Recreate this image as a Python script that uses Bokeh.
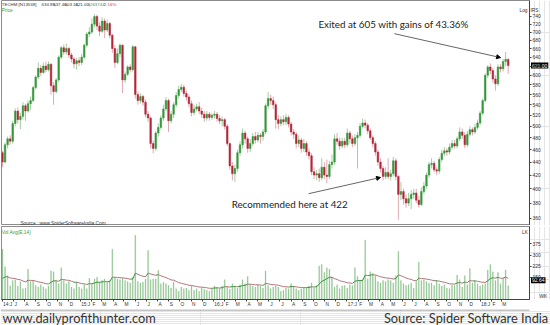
import datetime as dt
from bokeh.plotting import figure
from bokeh.models import (Range1d, FixedTicker, PrintfTickFormatter, Label, Arrow,
                          NormalHead, ColumnDataSource)
from bokeh.layouts import column, row
from bokeh.embed import file_html
from bokeh.resources import INLINE

# ---------------- data (weekly TECHM candles) ----------------
first_week = dt.date(2014, 6, 2)
n_weeks = 199

opens = [455,440,468,478,474,505,528,512,518,538,
         528,542,548,574,596,615,606,620,612,624,
         578,566,590,640,662,652,660,645,636,625,
         632,628,640,668,695,700,720,740,715,702,
         728,705,722,692,660,628,648,668,590,602,
         618,612,664,560,548,556,545,522,515,470,
         462,488,498,515,532,548,510,522,540,558,
         570,575,562,555,542,525,532,536,528,522,
         515,522,516,520,522,514,510,512,500,470,
         434,422,430,455,468,488,478,462,470,482,
         476,484,482,490,538,552,548,540,512,505,
         512,508,516,504,490,486,470,476,462,470,
         456,450,425,420,422,416,432,420,418,436,
         440,478,474,466,474,468,488,478,470,480,
         484,500,506,502,492,480,470,456,440,430,
         418,424,418,422,442,418,392,396,386,380,
         386,392,394,384,378,396,404,420,436,438,
         428,426,444,454,458,456,464,470,466,478,
         490,484,468,486,494,490,498,506,524,548,
         600,618,610,592,582,618,614,630,634.85]

highs = [458,472,482,484,510,533,535,525,545,542,
         548,556,578,600,628,622,628,630,630,626,
         585,594,644,666,670,672,664,650,640,638,
         640,648,672,700,712,735,746,745,725,738,
         735,732,726,696,668,660,672,670,608,622,
         624,668,666,566,562,560,550,528,518,475,
         492,505,520,540,555,552,528,545,565,578,
         582,580,568,560,548,540,542,545,534,528,
         528,526,524,528,526,520,518,515,504,472,
         440,436,460,474,496,492,482,478,488,490,
         490,488,495,542,565,560,556,545,520,518,
         520,522,520,508,495,490,484,480,478,474,
         462,454,432,428,430,446,440,444,442,452,
         486,488,480,480,480,496,492,484,486,490,
         506,514,512,506,496,484,474,460,446,434,
         432,446,428,448,446,420,410,400,392,394,
         398,400,400,390,402,410,424,440,446,442,
         432,448,460,464,462,470,476,476,482,498,
         496,490,492,500,498,504,512,528,552,604,
         622,626,616,600,624,624,636,652,637.4]

lows = [432,438,462,468,470,500,505,495,512,510,
        525,530,545,570,592,598,603,606,608,560,
        540,562,586,636,645,646,638,628,615,612,
        620,622,636,664,688,695,712,705,690,698,
        685,700,684,650,616,624,640,563,584,598,
        606,608,552,540,542,538,516,508,462,454,
        458,482,494,510,528,490,505,515,535,552,
        565,556,548,535,518,520,528,522,515,508,
        510,510,512,514,508,504,500,494,466,428,
        412,410,425,450,462,470,455,456,466,470,
        472,470,475,486,532,540,532,496,495,500,
        502,502,498,484,478,462,464,455,456,450,
        444,420,414,412,410,412,414,408,414,430,
        436,468,460,462,462,464,470,464,466,430,
        480,496,496,486,476,464,450,434,424,412,
        414,414,412,418,412,358,384,378,374,376,
        372,386,380,374,376,392,400,416,430,424,
        420,422,440,450,450,452,460,462,462,474,
        478,462,464,482,484,486,494,502,520,545,
        594,602,584,568,578,606,608,620,603.1]

closes = [440,468,478,474,505,528,512,518,538,528,
          542,548,574,596,615,606,620,612,624,578,
          566,590,640,662,652,660,645,636,625,632,
          628,640,668,695,700,720,740,715,702,728,
          705,722,692,660,628,648,668,590,602,618,
          612,664,560,548,556,545,522,515,470,462,
          488,498,515,532,548,510,522,540,558,570,
          575,562,555,542,525,532,536,528,522,515,
          522,516,520,522,514,510,512,500,470,434,
          422,430,455,468,488,478,462,470,482,476,
          484,482,490,538,552,548,540,512,505,512,
          508,516,504,490,486,470,476,462,470,456,
          450,425,420,422,416,432,420,418,436,440,
          478,474,466,474,468,488,478,470,480,484,
          500,506,502,492,480,470,456,440,430,418,
          424,418,422,442,418,392,396,386,380,386,
          392,394,384,378,396,404,420,436,438,428,
          426,444,454,458,456,464,470,466,478,490,
          484,468,486,494,490,498,506,524,548,600,
          618,610,592,582,618,614,630,635,621]

# weekly volume in lakhs
volumes = [340,222,161,91,128,134,91,121,73,77,
           204,121,128,95,84,99,84,73,91,193,
           187,128,106,215,128,106,121,84,73,117,
           84,73,99,73,143,106,139,150,117,130,
           139,117,128,340,150,139,134,143,128,121,
           112,150,434,121,112,117,139,331,134,139,
           139,198,106,117,106,95,77,117,73,56,
           84,73,77,62,91,62,73,56,80,69,
           62,56,73,91,84,73,91,134,84,70,
           106,91,77,99,134,106,156,99,91,84,
           99,91,77,193,95,73,84,91,84,56,
           62,77,73,106,91,73,62,73,77,77,
           91,112,77,95,226,237,182,215,204,150,
           84,99,73,91,95,77,99,95,215,156,
           128,134,401,139,187,178,161,121,112,128,
           121,134,128,112,161,325,128,106,95,100,
           112,77,121,252,128,134,121,110,112,95,
           128,106,91,99,77,73,96,95,165,134,
           84,161,99,209,112,128,106,91,100,106,
           200,237,187,128,182,106,143,200,92.64]

month_letters = ["J", "F", "M", "A", "M", "J", "J", "A", "S", "O", "N", "D"]
price_ticks = list(range(360, 741, 20))
volume_ticks = [150, 225, 300, 375]
last_price = 621.00
last_volume = 92.64

# ---------------- derived ----------------
days = [7 * k for k in range(n_weeks)]
up = [c >= o for o, c in zip(opens, closes)]
body_col = ["#35973a" if u else "#b3263a" for u in up]
wick_col = ["#9fd09f" if u else "#dfa9b2" for u in up]
src = ColumnDataSource(dict(
    x=days, h=highs, l=lows,
    top=[max(o, c) for o, c in zip(opens, closes)],
    bot=[min(o, c) for o, c in zip(opens, closes)],
    body=body_col, wick=wick_col))

# EMA(14) of volume, as on the original "Avg(E,14)"
alpha = 2 / 15
ema = [sum(volumes[:14]) / 14]
for v in volumes[1:]:
    ema.append(ema[-1] + alpha * (v - ema[-1]))
seg = ColumnDataSource(dict(
    x0=days[:-1], x1=days[1:], y0=ema[:-1], y1=ema[1:],
    col=["#3d9440" if b >= a else "#b7737c" for a, b in zip(ema[:-1], ema[1:])]))

# month ticks
month_starts, label_pos, labels = [], [], {}
y, m = 2014, 6
while (y, m) <= (2018, 3):
    d = (dt.date(y, m, 1) - first_week).days
    if m == 1 or (y, m) == (2014, 6):
        txt = "%02d:%s" % (y % 100, month_letters[m - 1])
        pos = d + 15
    else:
        txt = month_letters[m - 1]
        pos = d + 7
    month_starts.append(d)
    label_pos.append(pos)
    labels[pos] = txt
    m += 1
    if m == 13:
        y, m = y + 1, 1

W = 550
RB = 21          # right border holding the axis
XR = (-2.74, 1444.4)
FONT = "Liberation Sans"
AX_COL = "#444444"
OUT = "#8c8c8c"

def style_axis(ax):
    ax.axis_line_color = AX_COL
    ax.major_tick_line_color = AX_COL
    ax.major_label_text_font = FONT
    ax.major_label_text_font_size = "5px"
    ax.major_label_text_color = "#333333"
    ax.major_tick_in = 0
    ax.major_tick_out = 2
    ax.minor_tick_line_color = None
    ax.major_label_standoff = 1

def lab(p, x, yv, text, size="5px", color="#333333", font=FONT, align="left",
        baseline="middle", **kw):
    p.add_layout(Label(x=x, y=yv, text=text, text_font=font, text_font_size=size,
                       text_color=color, text_align=align, text_baseline=baseline, **kw))

def overlay(height, y_range, log=False):
    # transparent strip laid under the right border, for the value boxes
    f = figure(width=RB, height=height, x_range=Range1d(0, RB), y_range=y_range,
               y_axis_type="log" if log else "linear",
               x_axis_location=None, y_axis_location=None,
               output_backend="svg", toolbar_location=None, min_border=0,
               margin=(0, 0, 0, -RB))
    f.outline_line_color = None
    f.background_fill_alpha = 0
    f.border_fill_alpha = 0
    f.styles = {"z-index": "0"}
    return f

# ---------------- price panel ----------------
pA = figure(width=W, height=225, y_axis_type="log",
            x_range=Range1d(*XR), y_range=Range1d(350.8, 783.5),
            x_axis_location=None, y_axis_location="right",
            output_backend="svg", toolbar_location=None,
            min_border_left=1, min_border_right=RB, min_border_top=0, min_border_bottom=0)
pA.grid.visible = False
pA.outline_line_color = OUT
pA.border_fill_alpha = 0
pA.styles = {"z-index": "1"}
pA.yaxis.ticker = FixedTicker(ticks=price_ticks)
pA.yaxis.formatter = PrintfTickFormatter(format="%d")
style_axis(pA.yaxis[0])

pA.segment(x0="x", y0="l", x1="x", y1="h", line_color="wick", line_width=1, source=src)
pA.vbar(x="x", width=4.4, top="top", bottom="bot", fill_color="body",
        line_color="body", line_width=0.5, source=src)

hy = 771.6
lab(pA, -2, hy, "TECHM [N13538]", "4.4px")
lab(pA, 107, hy, "634.85,", "4.4px")
lab(pA, 139, hy, "637.40,", "4.4px")
lab(pA, 170, hy, "603.10,", "4.4px")
lab(pA, 200, hy, "621.00,", "4.4px")
lab(pA, 233, hy, "9263743", "4.4px", color="#3a9a3a")
lab(pA, 274, hy, "-2.16%", "4.4px", color="#d03030")
lab(pA, -2, 756, "Price", "4.8px", color="#3a9a3a")
lab(pA, 1417, 756, "Log", "4.8px")
lab(pA, 49, 353.8, "Source : www.SpiderSoftwareIndia.Com", "4.8px")

ANN_FONT = "Lato"
lab(pA, 866, 721, "Exited at 605 with gains of 43.36%", "9.8px", color="#222222", font=ANN_FONT)
lab(pA, 628, 379, "Recommended here at 422", "9.8px", color="#222222", font=ANN_FONT)
pA.add_layout(Arrow(end=NormalHead(size=4, fill_color="black", line_color="black"),
                    x_start=1074, y_start=696, x_end=1365, y_end=639,
                    line_color="#666666", line_width=1))
pA.add_layout(Arrow(end=NormalHead(size=4, fill_color="black", line_color="black"),
                    x_start=839, y_start=393, x_end=1036, y_end=416.4,
                    line_color="#666666", line_width=1))

pAR = overlay(225, pA.y_range, log=True)
lab(pAR, 1, 756, "IRS", "4.8px")
lab(pAR, 1.5, last_price, "%.2f" % last_price, "5px", color="white",
    background_fill_color="black", padding=1)

# ---------------- volume panel ----------------
BOT = 8
VPX = 493 / 75   # volume units per pixel in the 75px tall volume frame
pB = figure(width=W, height=84, x_range=Range1d(*XR), y_range=Range1d(0, 493),
            y_axis_location="right", output_backend="svg", toolbar_location=None,
            min_border_left=1, min_border_right=RB, min_border_top=1, min_border_bottom=BOT)
pB.grid.visible = False
pB.outline_line_color = OUT
pB.border_fill_alpha = 0
pB.styles = {"z-index": "1"}
pB.yaxis.ticker = FixedTicker(ticks=volume_ticks)
style_axis(pB.yaxis[0])
xa = pB.xaxis[0]
style_axis(xa)
xa.ticker = FixedTicker(ticks=label_pos, minor_ticks=month_starts)
xa.major_label_overrides = labels
xa.major_tick_out = 0
xa.minor_tick_line_color = AX_COL
xa.minor_tick_out = 2
xa.minor_tick_in = 0
xa.major_label_standoff = 0
xa.major_label_text_font_size = "4.8px"

pB.vbar(x=days, width=2.4, top=volumes, bottom=0, fill_color="#8fc28f",
        line_color="#8fc28f", line_width=0.3)
pB.segment(x0="x0", y0="y0", x1="x1", y1="y1", line_color="col", line_width=1, source=seg)

lab(pB, -2, 455, "Vol Avg(E,14)", "4.8px", color="#3a9a3a")
lab(pB, 1424, 455, "LK", "4.8px")

# overlay for the volume panel covers the whole 84px, so extend the range by the borders
pBR = overlay(84, Range1d(-BOT * VPX, 493 + 1 * VPX))
lab(pBR, 1.5, last_volume, "%.2f" % last_volume, "5px", color="white",
    background_fill_color="black", padding=1)
lab(pBR, 10, -31, "WK", "4.8px")

# ---------------- footer ----------------
pC = figure(width=W, height=16, x_range=Range1d(0, W), y_range=Range1d(0, 16),
            x_axis_location=None, y_axis_location=None,
            output_backend="svg", toolbar_location=None, min_border=0)
pC.outline_line_color = None
pC.segment(x0=[0], y0=[15.5], x1=[529], y1=[15.5], line_color=OUT, line_width=1)
lab(pC, 2, 7.6, "www.dailyprofithunter.com", "12.8px", color="#333333", font="Lato")
lab(pC, 548, 7.6, "Source: Spider Software India", "12.8px", color="#333333",
    font="Lato", align="right")

layout = column(row(pA, pAR), row(pB, pBR), pC)
open("out.html", "w").write(file_html(layout, INLINE))
